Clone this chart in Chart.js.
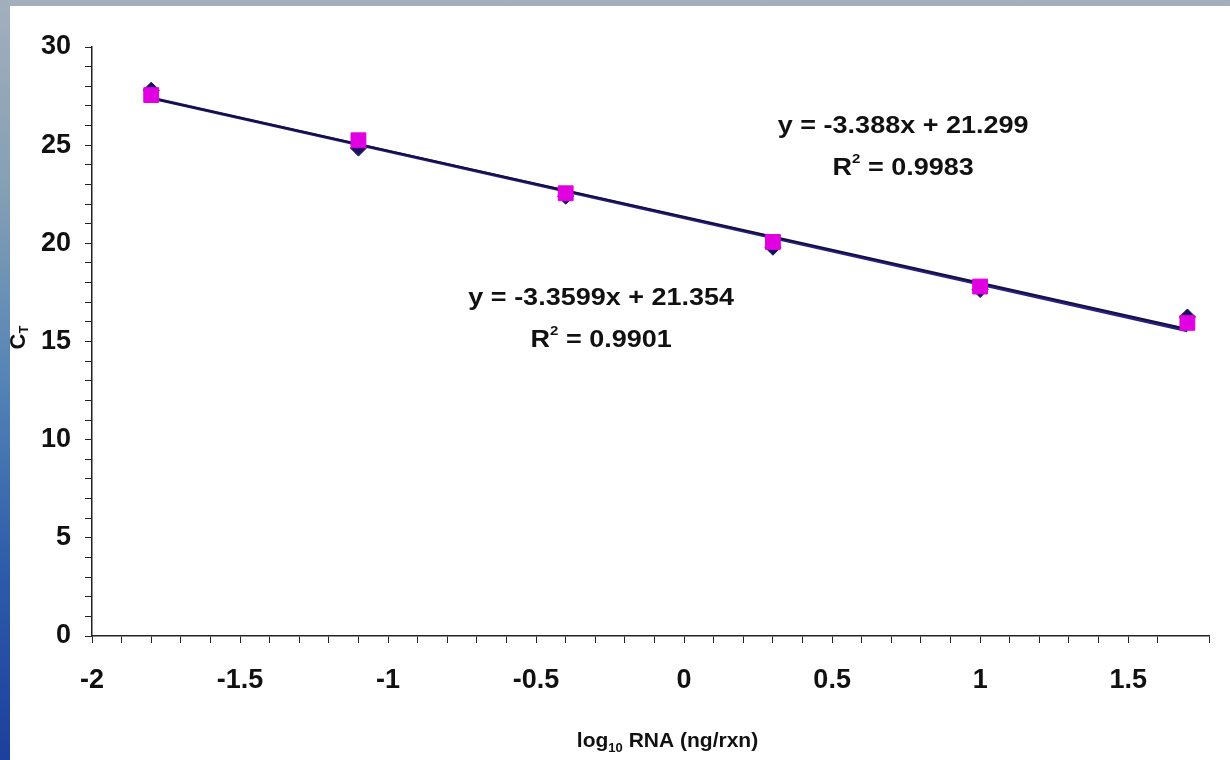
<!DOCTYPE html>
<html>
<head>
<meta charset="utf-8">
<script src="https://cdn.jsdelivr.net/npm/chart.js@4.4.1/dist/chart.umd.min.js"></script>
<style>
  html, body { margin: 0; padding: 0; width: 1230px; height: 760px; overflow: hidden; }
  body {
    position: relative;
    background: linear-gradient(to bottom, #a3afbd 0%, #849fb4 25%, #5584b6 50%, #2d5caa 75%, #1d3f9e 100%);
  }
  #panel { position: absolute; left: 10px; top: 6px; width: 1220px; height: 754px; background: #fff; }
</style>
</head>
<body>
<div id="panel"><canvas id="chart"></canvas></div>
<script>
// log10 RNA (ng/rxn) for each dilution
const xValues = [-1.8, -1.1, -0.4, 0.3, 1.0, 1.7];
// CT values
const ctMagenta = [27.55, 25.25, 22.55, 20.07, 17.8, 15.95];
const ctNavy = [27.8, 24.85, 22.4, 19.8, 17.65, 16.25];
// trend line ends
const trendX = [-1.8, 1.7];
const trendMagenta = [27.4, 15.54];
const trendNavy = [27.4, 15.64];
// equation labels
const eqMagenta = ['y = -3.388x + 21.299', '0.9983'];
const eqNavy = ['y = -3.3599x + 21.354', '0.9901'];

const FONT = '"Liberation Sans", Arial, sans-serif';
const INK = '#111111';

function toPoints(xs, ys) {
  return xs.map((x, i) => ({ x: x, y: ys[i] }));
}

// draws a row of text pieces (normal / sub / sup) centred on cx
function drawPieces(ctx, pieces, cx, baseY, scaleY) {
  let total = 0;
  pieces.forEach(p => {
    ctx.font = 'bold ' + p.size + 'px ' + FONT;
    p.w = ctx.measureText(p.text).width;
    total += p.w;
  });
  ctx.save();
  ctx.translate(cx - total / 2, baseY);
  ctx.scale(1, scaleY);
  ctx.fillStyle = INK;
  ctx.textAlign = 'left';
  ctx.textBaseline = 'alphabetic';
  let x = 0;
  pieces.forEach(p => {
    ctx.font = 'bold ' + p.size + 'px ' + FONT;
    ctx.fillText(p.text, x, p.dy || 0);
    x += p.w;
  });
  ctx.restore();
}

const labelsPlugin = {
  id: 'labels',
  afterDraw(chart) {
    const { ctx, scales, chartArea } = chart;
    const sx = scales.x, sy = scales.y;

    // regression equations
    drawPieces(ctx, [{ text: eqMagenta[0], size: 27 }],
      sx.getPixelForValue(0.74), sy.getPixelForValue(25.62), 0.9);
    drawPieces(ctx, [{ text: 'R', size: 27 }, { text: '2', size: 15, dy: -13 }, { text: ' = ' + eqMagenta[1], size: 27 }],
      sx.getPixelForValue(0.74), sy.getPixelForValue(23.48), 0.9);
    drawPieces(ctx, [{ text: eqNavy[0], size: 27 }],
      sx.getPixelForValue(-0.28), sy.getPixelForValue(16.86), 0.9);
    drawPieces(ctx, [{ text: 'R', size: 27 }, { text: '2', size: 15, dy: -13 }, { text: ' = ' + eqNavy[1], size: 27 }],
      sx.getPixelForValue(-0.28), sy.getPixelForValue(14.72), 0.9);

    // x axis title
    drawPieces(ctx, [{ text: 'log', size: 21 }, { text: '10', size: 13, dy: 5 }, { text: ' RNA (ng/rxn)', size: 21 }],
      (chartArea.left + chartArea.right) / 2 + 17, chart.height - 13, 1);

    // y axis title, rotated
    ctx.save();
    ctx.translate(15, (chartArea.top + chartArea.bottom) / 2 - 4);
    ctx.rotate(-Math.PI / 2);
    drawPieces(ctx, [{ text: 'C', size: 22 }, { text: 'T', size: 13, dy: 3 }], 0, 0, 1);
    ctx.restore();
  }
};

const ctx = document.getElementById('chart').getContext('2d');
new Chart(ctx, {
  type: 'scatter',
  data: {
    datasets: [
      {
        label: 'Magenta',
        data: toPoints(xValues, ctMagenta),
        pointStyle: 'rect',
        pointRadius: 10.5,
        backgroundColor: '#e000e0',
        borderColor: '#e000e0',
        borderWidth: 1,
        order: 0
      },
      {
        label: 'Navy',
        data: toPoints(xValues, ctNavy),
        pointStyle: 'rectRot',
        pointRadius: 8,
        backgroundColor: '#1a1060',
        borderColor: '#1a1060',
        borderWidth: 1,
        order: 1
      },
      {
        label: 'Trend magenta',
        data: toPoints(trendX, trendMagenta),
        showLine: true,
        pointRadius: 0,
        borderColor: '#2a1f86',
        borderWidth: 3,
        order: 3
      },
      {
        label: 'Trend navy',
        data: toPoints(trendX, trendNavy),
        showLine: true,
        pointRadius: 0,
        borderColor: '#14103f',
        borderWidth: 2,
        order: 2
      }
    ]
  },
  options: {
    responsive: true,
    maintainAspectRatio: false,
    animation: false,
    layout: { padding: { top: 41, right: 0, left: 0, bottom: 0 } },
    plugins: {
      legend: { display: false },
      tooltip: { enabled: false }
    },
    scales: {
      x: {
        type: 'linear',
        min: -2,
        max: 1.773,
        afterFit: s => { s.height = 124; },
        border: { display: true, color: '#222', width: 1.5 },
        grid: { drawOnChartArea: false, drawTicks: true, tickLength: 7, color: '#222' },
        ticks: {
          stepSize: 0.1,
          maxTicksLimit: 200,
          autoSkip: false,
          maxRotation: 0,
          padding: 21,
          color: INK,
          font: { family: FONT, size: 27, weight: 'bold' },
          callback: v => {
            const r = Math.round(v * 10) / 10;
            if (Math.abs(v - r) > 1e-6) return '';
            return Math.abs(r * 2 - Math.round(r * 2)) < 1e-9 ? String(r) : '';
          }
        }
      },
      y: {
        type: 'linear',
        min: 0,
        max: 30,
        afterFit: s => { s.width = 82; },
        border: { display: true, color: '#222', width: 1.5 },
        grid: { drawOnChartArea: false, drawTicks: true, tickLength: 7, color: '#222' },
        ticks: {
          stepSize: 1,
          maxTicksLimit: 200,
          autoSkip: false,
          padding: 14,
          color: INK,
          font: { family: FONT, size: 27, weight: 'bold' },
          callback: v => (v % 5 === 0 ? String(v) : '')
        }
      }
    }
  },
  plugins: [labelsPlugin]
});
</script>
</body>
</html>
